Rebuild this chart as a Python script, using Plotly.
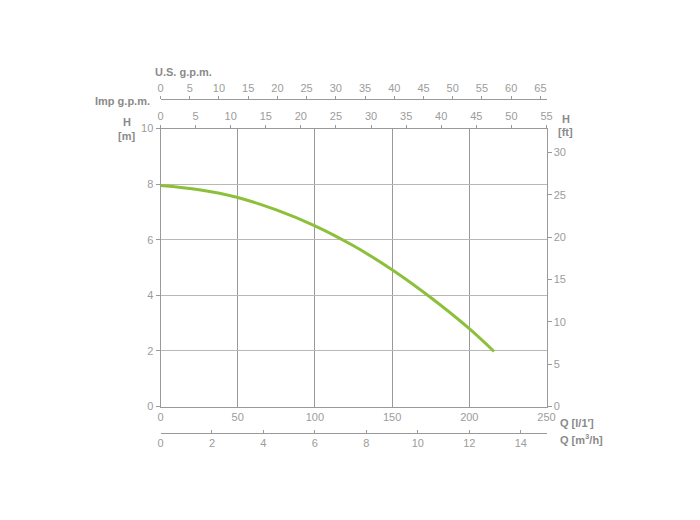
import plotly.graph_objects as go

# Data
q_lmin = [0, 25, 50, 75, 100, 125, 150, 175, 200, 216]
h_m = [7.95, 7.8, 7.52, 7.07, 6.5, 5.78, 4.92, 3.92, 2.8, 1.98]

q_ticks = [0, 50, 100, 150, 200, 250]
h_ticks = [0, 2, 4, 6, 8, 10]
hft_ticks = [0, 5, 10, 15, 20, 25, 30]
m3h_ticks = [0, 2, 4, 6, 8, 10, 12, 14]
imp_ticks = [0, 5, 10, 15, 20, 25, 30, 35, 40, 45, 50, 55]
us_ticks = [0, 5, 10, 15, 20, 25, 30, 35, 40, 45, 50, 55, 60, 65]

Q_MAX = 250
H_MAX = 10
FT = 3.28084
M3H = 0.06
IMP = 4.54609
USG = 3.785411784

W, H = 700, 520
OFF = 7.5  # page offset of the rendered figure
def px(x):
    return (x - OFF) / W
def py(y):
    return 1 - (y - OFF) / H

XD = [px(160), px(546)]
YD = [py(406), py(128)]

AX = "#9a9a9a"
GRID = "#b8b8b8"
TXT = "#9c9c9c"
TITLE = "#8a8a8a"
FONT = "Liberation Sans, Arial, sans-serif"
tf = dict(family=FONT, size=11, color=TXT)

fig = go.Figure()
fig.add_trace(go.Scatter(x=q_lmin, y=h_m, mode="lines",
                         line=dict(color="#8dc03a", width=3, shape="spline"),
                         hoverinfo="skip", showlegend=False))
# dummy traces to activate secondary axes
fig.add_trace(go.Scatter(x=[0, Q_MAX * M3H], y=[None, None], xaxis="x2", yaxis="y", showlegend=False, hoverinfo="skip"))
fig.add_trace(go.Scatter(x=[0, Q_MAX / IMP], y=[None, None], xaxis="x3", yaxis="y", showlegend=False, hoverinfo="skip"))
fig.add_trace(go.Scatter(x=[0, Q_MAX / USG], y=[None, None], xaxis="x4", yaxis="y", showlegend=False, hoverinfo="skip"))
fig.add_trace(go.Scatter(x=[0, 0], y=[0, H_MAX * FT], xaxis="x", yaxis="y2", mode="markers",
                         marker=dict(opacity=0), showlegend=False, hoverinfo="skip"))

common = dict(showline=True, linecolor=AX, linewidth=1, tickcolor=AX, tickfont=tf,
              zeroline=False, fixedrange=True, automargin=False)

fig.update_layout(
    template="none",
    width=W, height=H,
    margin=dict(l=0, r=0, t=0, b=0, autoexpand=False),
    paper_bgcolor="white", plot_bgcolor="white",
    xaxis=dict(domain=XD, range=[0, Q_MAX], tickvals=q_ticks, anchor="y", side="bottom",
               showgrid=True, gridcolor=AX, gridwidth=1, ticks="", ticklen=0, **common),
    xaxis2=dict(domain=XD, range=[0, Q_MAX * M3H], tickvals=m3h_ticks, overlaying="x",
                anchor="free", position=py(432), side="bottom", showgrid=False,
                ticks="inside", ticklen=3, **common),
    xaxis3=dict(domain=XD, range=[0, 55.0], tickvals=imp_ticks, overlaying="x",
                anchor="y", side="top", showgrid=False, ticks="outside", ticklen=3, **common),
    xaxis4=dict(domain=XD, range=[0, Q_MAX / USG], tickvals=us_ticks, overlaying="x",
                anchor="free", position=py(98.5), side="top", showgrid=False,
                ticks="outside", ticklen=3, **common),
    yaxis=dict(domain=YD, range=[0, H_MAX], tickvals=h_ticks, anchor="x", side="left",
               showgrid=True, gridcolor=GRID, gridwidth=1, ticks="outside", ticklen=4, **common),
    yaxis2=dict(domain=YD, range=[0, H_MAX * FT], tickvals=hft_ticks, overlaying="y",
                anchor="x", side="right", showgrid=False, ticks="outside", ticklen=4, **common),
)

def ann(text, x, y, xanchor="left", bold=False):
    fig.add_annotation(text=f"<b>{text}</b>" if bold else text, x=px(x), y=py(y),
                       xref="paper", yref="paper", xanchor=xanchor, yanchor="middle",
                       showarrow=False, font=dict(family=FONT, size=11, color=TITLE))

ann("U.S. g.p.m.", 152, 71, bold=True)
ann("Imp g.p.m.", 151, 100, xanchor="right", bold=True)
ann("H", 126, 121, xanchor="center", bold=True)
ann("[m]", 126, 135, xanchor="center", bold=True)
ann("H", 565, 118, xanchor="center", bold=True)
ann("[ft]", 565, 131, xanchor="center", bold=True)
ann("Q [l/1']", 557, 422, bold=True)
ann("Q [m<sup>3</sup>/h]", 557, 438, bold=True)

fig.write_html("out.html")
